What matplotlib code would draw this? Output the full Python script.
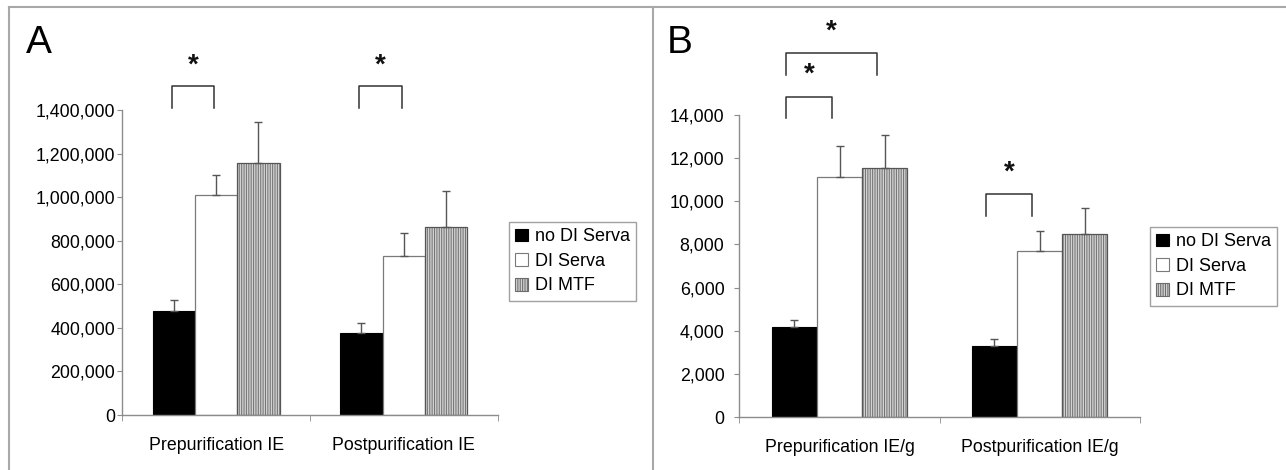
import matplotlib
matplotlib.use("Agg")
import numpy as np
import matplotlib.pyplot as plt
from matplotlib.patches import Patch
from matplotlib.lines import Line2D
from matplotlib.ticker import FuncFormatter

plt.rcParams['font.family'] = ['Liberation Sans', 'DejaVu Sans']
plt.rcParams['hatch.linewidth'] = 0.75

seriesNames = ["no DI Serva", "DI Serva", "DI MTF"]

# panel A: IE counts
categoriesA = ["Prepurification IE", "Postpurification IE"]
noDiServaA = [477000, 375000]
diServaA = [1010000, 730000]
diMtfA = [1155000, 864000]
noDiServaErrA = [51000, 49000]
diServaErrA = [91000, 104000]
diMtfErrA = [191000, 164000]

# panel B: IE per gram
categoriesB = ["Prepurification IE/g", "Postpurification IE/g"]
noDiServaB = [4160, 3270]
diServaB = [11120, 7680]
diMtfB = [11520, 8480]
noDiServaErrB = [330, 340]
diServaErrB = [1420, 925]
diMtfErrB = [1530, 1200]

# significance brackets: (group, bar from, bar to, leg bottom, bracket top, star y)
bracketsA = [(0, 0, 1, 1408000, 1510000, 1605000),
             (1, 0, 1, 1408000, 1510000, 1605000)]
bracketsB = [(0, 0, 1, 13850, 14850, 15880),
             (0, 0, 2, 15850, 16880, 17850),
             (1, 0, 1, 9300, 10330, 11330)]

W, H = 1286, 470
fig = plt.figure(figsize=(W / 100, H / 100), dpi=100)

barWidth = 0.226
grey = '#8c8c8c'


def drawPanel(left, right, bottom, top, cats, series, errs, ymax, step, brackets,
              letter, letterX, labelPad, legendX, legendY, shift):
    ax = fig.add_axes([left / W, 1 - bottom / H, (right - left) / W, (bottom - top) / H])
    x = np.arange(len(cats))
    positions = [x + (i - 1) * barWidth for i in range(3)]

    ax.bar(positions[0], series[0], barWidth, color='black', edgecolor='black', linewidth=0.8, zorder=2)
    ax.bar(positions[1], series[1], barWidth, color='white', edgecolor='#7a7a7a', linewidth=0.9, zorder=2)
    ax.bar(positions[2], series[2], barWidth, color='#d2d2d2', edgecolor='#747474',
           hatch='|||||||', linewidth=0, zorder=2)
    ax.bar(positions[2], series[2], barWidth, fill=False, edgecolor='#555555', linewidth=0.9, zorder=2)

    for pos, vals, err in zip(positions, series, errs):
        ax.errorbar(pos, vals, yerr=[np.zeros(len(vals)), err], fmt='none', ecolor='#555555',
                    elinewidth=1.0, capsize=2.8, capthick=1.0, zorder=3)

    for g, a, b, y0, y1, ys in brackets:
        xa = positions[a][g] - shift
        xb = positions[b][g] - shift
        ax.plot([xa, xa, xb, xb], [y0, y1, y1, y0], color='#333333', lw=1.1,
                clip_on=False, zorder=4)
        ax.text((xa + xb) / 2, ys, '*', ha='center', va='center', fontsize=20,
                fontweight='bold', color='#111111', clip_on=False)

    ax.set_xlim(-0.5, len(cats) - 0.5)
    ax.set_ylim(0, ymax)
    ax.set_yticks(np.arange(0, ymax + 1, step))
    ax.yaxis.set_major_formatter(FuncFormatter(lambda v, p: f"{v:,.0f}"))
    ax.set_xticks(x)
    ax.set_xticklabels(cats)
    ax.set_xticks(np.arange(-0.5, len(cats), 1.0), minor=True)
    ax.tick_params(axis='x', which='major', length=0, pad=16, labelsize=12.8)
    ax.tick_params(axis='x', which='minor', length=4.5, color=grey, direction='out')
    ax.tick_params(axis='y', length=3.8, color=grey, pad=labelPad, labelsize=12.8)
    for side in ['top', 'right']:
        ax.spines[side].set_visible(False)
    for side in ['left', 'bottom']:
        ax.spines[side].set_color(grey)
        ax.spines[side].set_linewidth(1.0)

    handles = [Patch(facecolor='black', edgecolor='black', linewidth=0.8),
               Patch(facecolor='white', edgecolor='#7a7a7a', linewidth=0.8),
               Patch(facecolor='#d2d2d2', edgecolor='#6c6c6c', hatch='|||||||', linewidth=0.8)]
    leg = fig.legend(handles, seriesNames, loc='upper left',
                     bbox_to_anchor=(legendX / W, 1 - legendY / H), fontsize=13,
                     frameon=True, fancybox=False, shadow=False, borderpad=0.35,
                     handlelength=0.72, handleheight=0.72, handletextpad=0.35,
                     labelspacing=0.42, borderaxespad=0)
    leg.get_frame().set_edgecolor('#8a8a8a')
    leg.get_frame().set_linewidth(1.0)

    fig.text(letterX / W, 1 - 53 / H, letter, fontsize=28, ha='left', va='baseline')
    return ax


drawPanel(122.3, 497.5, 415, 110, categoriesA,
          [noDiServaA, diServaA, diMtfA], [noDiServaErrA, diServaErrA, diMtfErrA],
          1400000, 200000, bracketsA, 'A', 26, 1.5, 509, 222, 0.01)
drawPanel(739.5, 1139.6, 417, 115, categoriesB,
          [noDiServaB, diServaB, diMtfB], [noDiServaErrB, diServaErrB, diMtfErrB],
          14000, 2000, bracketsB, 'B', 667, 7, 1150, 227, 0.04)

# outer frame lines of the composite figure
frameColor = '#a8a8a8'
fig.add_artist(Line2D([9.3 / W, 1], [1 - 6.7 / H, 1 - 6.7 / H], color=frameColor, lw=1.5))
fig.add_artist(Line2D([9.3 / W, 9.3 / W], [0, 1 - 6.7 / H], color=frameColor, lw=1.5))
fig.add_artist(Line2D([652.5 / W, 652.5 / W], [0, 1 - 6.7 / H], color=frameColor, lw=1.5))

fig.savefig('out.png', dpi=100)
